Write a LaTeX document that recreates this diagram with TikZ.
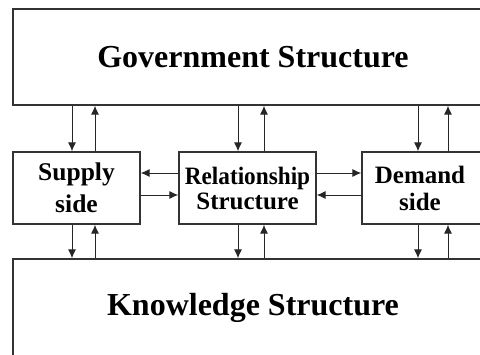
\documentclass[tikz,border=0pt]{standalone}
\usepackage{fontspec}
\setmainfont{Liberation Serif}
\usetikzlibrary{arrows.meta}
\begin{document}
\begin{tikzpicture}[x=1pt,y=-1pt,
  box/.style={draw=black!80, line width=1.3pt, rectangle, inner sep=0pt, align=center,
    font=\bfseries\fontsize{25.5}{32}\selectfont},
  big/.style={box, font=\bfseries\fontsize{32}{36}\selectfont},
  arr/.style={-{Latex[length=9pt,width=8pt]}, line width=1pt, draw=black!85}]
\useasboundingbox (0,0) rectangle (480,354);
\clip (0,0) rectangle (480,354);
\node[big, minimum width=480pt, minimum height=96pt] (gov) at (253,57) {Government Structure};
\node[big, minimum width=480pt, minimum height=97pt] (know) at (253,307.5) {Knowledge Structure};
\node[box, minimum width=127pt, minimum height=72pt] (sup) at (76.5,188) {Supply\\side};
\node[box, minimum width=137pt, minimum height=72pt, font=\bfseries\fontsize{25}{25}\selectfont] (rel) at (247.5,188) {\scalebox{0.93}[1]{Relationship}\\Structure};
\node[box, minimum width=130pt, minimum height=72pt, font=\bfseries\fontsize{25}{27}\selectfont] (dem) at (427,188) {Demand\hspace*{14pt}\\side\hspace*{14pt}};
\path (72,0) coordinate (c1) (95,0) coordinate (c2) (238,0) coordinate (c3)
      (264,0) coordinate (c4) (418,0) coordinate (c5) (448,0) coordinate (c6)
      (0,173) coordinate (h1) (0,195) coordinate (h2);
% government <-> middle row
\draw[arr] (gov.south -| c1) -- (sup.north -| c1);
\draw[arr] (sup.north -| c2) -- (gov.south -| c2);
\draw[arr] (gov.south -| c3) -- (rel.north -| c3);
\draw[arr] (rel.north -| c4) -- (gov.south -| c4);
\draw[arr] (gov.south -| c5) -- (dem.north -| c5);
\draw[arr] (dem.north -| c6) -- (gov.south -| c6);
% middle row <-> knowledge
\draw[arr] (sup.south -| c1) -- (know.north -| c1);
\draw[arr] (know.north -| c2) -- (sup.south -| c2);
\draw[arr] (rel.south -| c3) -- (know.north -| c3);
\draw[arr] (know.north -| c4) -- (rel.south -| c4);
\draw[arr] (dem.south -| c5) -- (know.north -| c5);
\draw[arr] (know.north -| c6) -- (dem.south -| c6);
% horizontal
\draw[arr] (rel.west |- h1) -- (sup.east |- h1);
\draw[arr] (sup.east |- h2) -- (rel.west |- h2);
\draw[arr] (rel.east |- h1) -- (dem.west |- h1);
\draw[arr] (dem.west |- h2) -- (rel.east |- h2);
\end{tikzpicture}
\end{document}
